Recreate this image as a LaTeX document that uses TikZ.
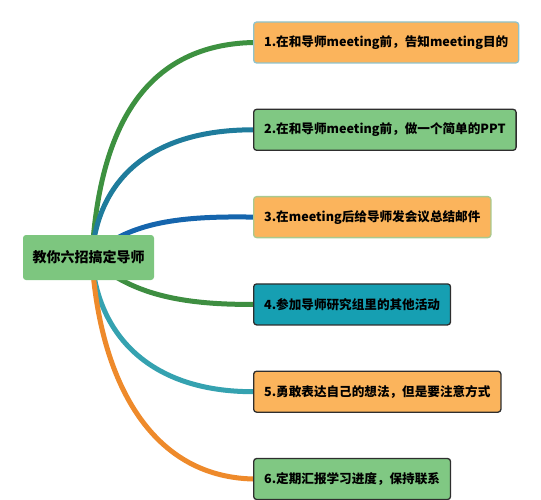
\documentclass[tikz,border=0pt]{standalone}
\usepackage{fontspec}
\newfontfamily\cjk{Noto Sans CJK SC}
\usetikzlibrary{positioning, backgrounds}

\definecolor{boxorange}{HTML}{FBB45C}
\definecolor{boxgreen}{HTML}{80C883}
\definecolor{boxteal}{HTML}{169FB2}
\definecolor{rootgreen}{HTML}{7DC67F}
\definecolor{edgedark}{HTML}{2E2E2E}
\definecolor{edgeone}{HTML}{8FC3CC}
\definecolor{edgethree}{HTML}{A9C98E}
\definecolor{lineone}{HTML}{3D9140}
\definecolor{linetwo}{HTML}{1F7C9C}
\definecolor{linethree}{HTML}{1565AD}
\definecolor{linefour}{HTML}{3E8E41}
\definecolor{linefive}{HTML}{35A2B0}
\definecolor{linesix}{HTML}{EE8A2B}

\begin{document}
\begin{tikzpicture}[
    x=1pt, y=-1pt,
    root/.style={rectangle, fill=rootgreen, minimum width=131pt, minimum height=45pt, rounded corners=3pt, font=\cjk\bfseries\fontsize{14pt}{16pt}\selectfont},
    leaf/.style={rectangle, draw=edgedark, line width=1.3pt, minimum height=41pt, inner xsep=10.5pt, rounded corners=3pt, anchor=west, font=\cjk\bfseries\fontsize{12.6pt}{15pt}\selectfont},
    branch/.style={line width=5pt, line cap=round}
]
\useasboundingbox (0,0) rectangle (541,500);

% Centre
\node[root] (root) at (88.5,257.5) {教你六招搞定导师};

% Tips
\node[leaf, fill=boxorange, draw=edgeone] (t1) at (253,42.5) {1.在和导师meeting前，告知meeting目的};
\node[leaf, fill=boxgreen, below=45pt of t1.south west, anchor=north west] (t2) {2.在和导师meeting前，做一个简单的PPT};
\node[leaf, fill=boxorange, draw=edgethree, below=45pt of t2.south west, anchor=north west] (t3) {3.在meeting后给导师发会议总结邮件};
\node[leaf, fill=boxteal, below=45pt of t3.south west, anchor=north west] (t4) {4.参加导师研究组里的其他活动};
\node[leaf, fill=boxorange, below=45pt of t4.south west, anchor=north west] (t5) {5.勇敢表达自己的想法，但是要注意方式};
\node[leaf, fill=boxgreen, below=45pt of t5.south west, anchor=north west] (t6) {6.定期汇报学习进度，保持联系};

% Branches
\begin{scope}[on background layer]
\coordinate (up) at ([xshift=3.5pt, yshift=2.5pt]root.center);
\coordinate (down) at ([xshift=3.5pt, yshift=-2.5pt]root.center);
\draw[branch, lineone] (up) .. controls +(8,-135) and +(-103,2.5) .. (t1.west);
\draw[branch, linetwo] (up) .. controls +(6,-75) and +(-103,0) .. (t2.west);
\draw[branch, linethree] (up) .. controls +(36,-30) and +(-83,-1.5) .. (t3.west);
\draw[branch, linefour] (down) .. controls +(36,30) and +(-83,0.5) .. (t4.west);
\draw[branch, linefive] (down) .. controls +(6,75) and +(-103,0) .. (t5.west);
\draw[branch, linesix] (down) .. controls +(8,120) and +(-103,-2.5) .. (t6.west);
\end{scope}

\end{tikzpicture}
\end{document}
